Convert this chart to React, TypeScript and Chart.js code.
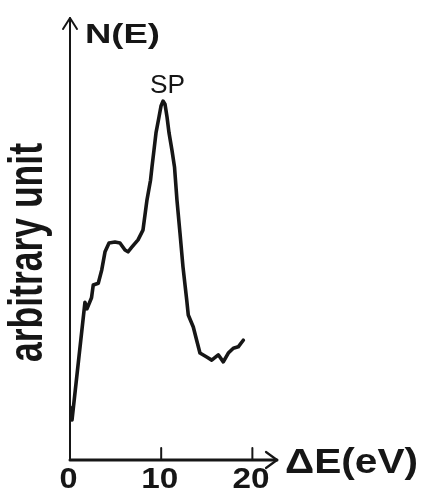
import React, { useEffect, useRef } from "react";
import { Chart, registerables } from "chart.js";

Chart.register(...registerables);

// Energy loss ΔE (eV)
const energy: number[] = [
  0.0, 0.22, 1.64, 1.86, 2.36, 2.55, 3.1, 3.48, 3.84, 4.28, 4.93, 5.48, 6.03, 6.36,
  6.8, 7.46, 8.0, 8.44, 8.83, 8.99, 9.21, 9.43, 9.76, 9.98, 10.2, 10.42, 10.64,
  10.86, 11.18, 11.46, 11.73, 12.06, 12.39, 12.8, 12.97, 13.52, 13.89, 14.25,
  14.99, 15.54, 16.26, 16.81, 17.36, 17.91, 18.45, 19.0,
];
// N(E), arbitrary unit
const intensity: number[] = [
  12.0, 9.05, 35.7, 34.2, 36.7, 39.6, 40.0, 43.0, 47.1, 49.1, 49.3, 49.1, 47.5, 47.1,
  48.2, 49.8, 52.0, 58.8, 63.3, 66.3, 70.1, 74.0, 77.6, 80.1, 81.2, 80.5, 77.6,
  74.0, 70.1, 66.3, 58.8, 51.4, 43.7, 36.2, 32.8, 30.1, 27.1, 24.2,
  23.3, 22.6, 23.8, 22.2, 24.2, 25.3, 25.6, 27.1,
];
const xTicks: number[] = [0, 10, 20];
const tickMarks: number[] = [10, 20];
const peakLabel = { x: 10.2, y: 81.2, text: "SP" };
const xTitle = "ΔE(eV)";
const yTitle = "arbitrary unit";
const yAxisName = "N(E)";

const INK = "#161616";
const FONT = '"Liberation Sans", Arial, sans-serif';

function fitText(
  ctx: CanvasRenderingContext2D,
  text: string,
  font: string,
  x: number,
  y: number,
  targetWidth: number,
  rotate = 0,
  align: "left" | "center" = "left"
) {
  ctx.save();
  ctx.font = font;
  ctx.fillStyle = INK;
  ctx.textBaseline = "alphabetic";
  ctx.textAlign = "left";
  const w = ctx.measureText(text).width;
  const sx = targetWidth / w;
  ctx.translate(x, y);
  if (rotate) ctx.rotate(rotate);
  ctx.scale(sx, 1);
  ctx.fillText(text, align === "center" ? -w / 2 : 0, 0);
  ctx.restore();
}

const decorPlugin = {
  id: "decor",
  afterDatasetsDraw(chart: any) {
    const ctx: CanvasRenderingContext2D = chart.ctx;
    const xs = chart.scales.x;
    const ys = chart.scales.y;
    const x0 = xs.getPixelForValue(0);
    const y0 = ys.getPixelForValue(0);
    const top = chart.chartArea.top;
    const right = chart.chartArea.right;
    ctx.save();
    ctx.strokeStyle = INK;
    ctx.lineCap = "round";
    ctx.lineJoin = "round";
    // y axis
    ctx.lineWidth = 2;
    ctx.beginPath();
    ctx.moveTo(x0, y0);
    ctx.lineTo(x0, top);
    ctx.stroke();
    ctx.beginPath();
    ctx.moveTo(x0 - 7, top + 11);
    ctx.lineTo(x0, top);
    ctx.lineTo(x0 + 7, top + 11);
    ctx.stroke();
    // x axis
    ctx.lineWidth = 3;
    ctx.beginPath();
    ctx.moveTo(x0, y0);
    ctx.lineTo(right, y0);
    ctx.stroke();
    ctx.lineWidth = 2.2;
    ctx.beginPath();
    ctx.moveTo(right - 11, y0 - 8);
    ctx.lineTo(right, y0);
    ctx.lineTo(right - 11, y0 + 8);
    ctx.stroke();
    // tick marks
    ctx.lineWidth = 2;
    tickMarks.forEach((v) => {
      const px = xs.getPixelForValue(v);
      ctx.beginPath();
      ctx.moveTo(px, y0);
      ctx.lineTo(px, y0 - 12);
      ctx.stroke();
    });
    ctx.restore();

    // tick labels
    xTicks.forEach((v) => {
      const px = xs.getPixelForValue(v);
      const label = String(v);
      const target = label.length === 1 ? 18 : 37;
      fitText(ctx, label, `bold 29px ${FONT}`, px - 1.5, y0 + 28, target, 0, "center");
    });
    // axis titles
    fitText(ctx, yAxisName, `bold 28px ${FONT}`, x0 + 15, top + 25, 75);
    fitText(ctx, xTitle, `bold 35px ${FONT}`, right + 8, y0 + 13, 133);
    fitText(ctx, yTitle, `bold 48px ${FONT}`, 42, 362, 219, -Math.PI / 2);
    // peak label
    const lx = xs.getPixelForValue(peakLabel.x);
    const ly = ys.getPixelForValue(peakLabel.y);
    fitText(ctx, peakLabel.text, `25px ${FONT}`, lx + 4.5, ly - 8, 35, 0, "center");
  },
};

export default function App() {
  const canvasRef = useRef<HTMLCanvasElement | null>(null);
  useEffect(() => {
    if (!canvasRef.current) return;
    const chart = new Chart(canvasRef.current, {
      type: "line",
      data: {
        datasets: [
          {
            data: energy.map((e, i) => ({ x: e, y: intensity[i] })),
            borderColor: INK,
            borderWidth: 3.6,
            pointRadius: 0,
            tension: 0,
            fill: false,
            borderJoinStyle: "round",
            borderCapStyle: "round",
          },
        ],
      },
      options: {
        animation: false,
        responsive: false,
        events: [],
        layout: { padding: { left: 70, top: 18, right: 146, bottom: 42 } },
        plugins: { legend: { display: false }, tooltip: { enabled: false } },
        scales: {
          x: { type: "linear", min: 0, max: 22.7, display: false },
          y: { type: "linear", min: 0, max: 100, display: false },
        },
      },
      plugins: [decorPlugin],
    });
    return () => chart.destroy();
  }, []);
  return (
    <div style={{ position: "fixed", left: 0, top: 0, width: 423, height: 502, background: "#ffffff" }}>
      <canvas ref={canvasRef} width={423} height={502} style={{ display: "block" }} />
    </div>
  );
}
